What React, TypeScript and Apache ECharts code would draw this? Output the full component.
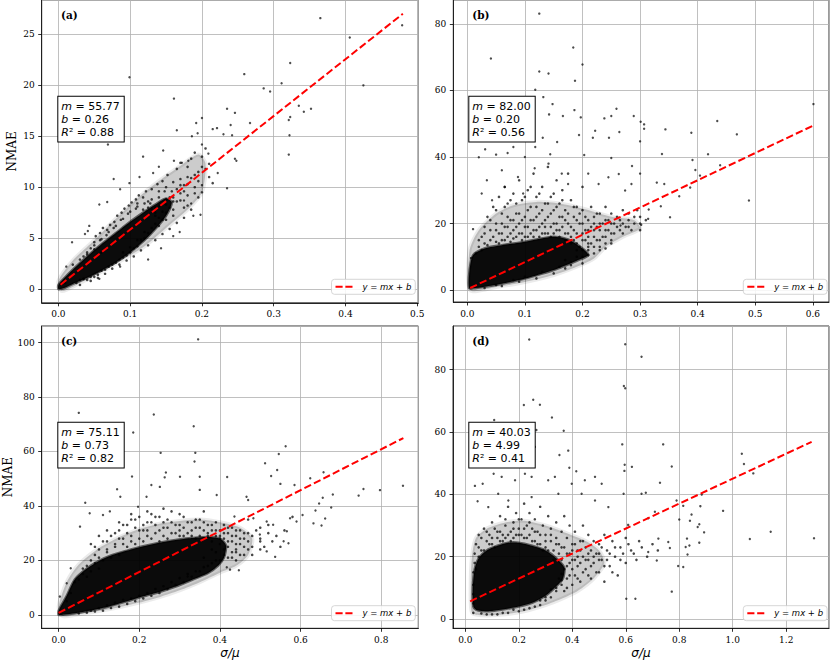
import React, { useEffect, useRef } from "react";
import * as echarts from "echarts";

// ---------- Panel (a) ----------
const fitA = [[0.003, 0.43], [0.48, 27.03]];
// outline of the saturated (solid black) part of the point cloud
const denseA = [
  [0.0, 0.0], [0.0, 0.4], [0.01, 1.2], [0.02, 1.9], [0.04, 3.2], [0.06, 4.4], [0.08, 5.5], [0.1, 6.6], [0.12, 7.6],
  [0.135, 8.3], [0.15, 8.9], [0.158, 8.5], [0.15, 7.2], [0.135, 5.9], [0.12, 4.8], [0.1, 3.6], [0.08, 2.6],
  [0.06, 1.8], [0.04, 1.1], [0.02, 0.5], [0.008, 0.1],
];
// outline of the half-saturated (grey) zone around it
const grayA = [
  [0.0, 0.8], [0.02, 2.8], [0.05, 4.8], [0.08, 6.9], [0.11, 8.9], [0.14, 10.6], [0.17, 12.1], [0.195, 13.2],
  [0.205, 12.3], [0.2, 9.5], [0.18, 7.8], [0.15, 6.0], [0.12, 4.2], [0.09, 2.9], [0.06, 1.7], [0.03, 0.6], [0.005, -0.2],
];
const midA = [
  [0.02, 2.4], [0.025, 0.6], [0.03, 2.9], [0.03, 0.9], [0.035, 3.2], [0.035, 1.0], [0.04, 3.6], [0.04, 0.9],
  [0.045, 4.0], [0.045, 1.2], [0.05, 4.6], [0.05, 1.2], [0.052, 5.2], [0.055, 1.4], [0.058, 5.5], [0.06, 1.8],
  [0.062, 6.0], [0.065, 1.9], [0.068, 5.8], [0.07, 2.2], [0.072, 6.3], [0.075, 2.4], [0.078, 6.6], [0.08, 2.6],
  [0.082, 7.2], [0.085, 2.9], [0.088, 7.5], [0.09, 3.1], [0.092, 7.9], [0.095, 3.3], [0.098, 8.2], [0.1, 3.6],
  [0.102, 8.5], [0.105, 4.0], [0.108, 8.8], [0.11, 4.2], [0.112, 9.2], [0.115, 4.8], [0.118, 9.0], [0.12, 5.0],
  [0.122, 9.6], [0.125, 5.5], [0.128, 8.4], [0.13, 6.0], [0.13, 9.8], [0.135, 6.4], [0.135, 8.0], [0.138, 10.3],
  [0.14, 7.0], [0.14, 9.0], [0.145, 6.8], [0.145, 10.6], [0.15, 7.5], [0.15, 8.8], [0.152, 11.2], [0.155, 8.0],
  [0.158, 9.6], [0.16, 10.5], [0.16, 7.2], [0.165, 8.6], [0.165, 11.8], [0.17, 9.4], [0.17, 12.4], [0.175, 10.2],
  [0.175, 8.0], [0.18, 11.0], [0.18, 9.2], [0.185, 12.8], [0.19, 10.0], [0.19, 13.4], [0.195, 11.5], [0.2, 9.5],
  [0.2, 12.0], [0.205, 13.8], [0.21, 11.0], [0.125, 8.0], [0.135, 7.2], [0.142, 8.2], [0.148, 9.6], [0.11, 8.4],
];
const haloA = [
  [0.03, 0.4], [0.04, 3.4], [0.045, 0.8], [0.05, 3.9], [0.055, 1.1], [0.06, 4.9], [0.065, 1.5], [0.07, 5.6],
  [0.075, 2.0], [0.08, 6.2], [0.085, 2.4], [0.09, 6.9], [0.095, 2.8], [0.1, 7.6], [0.105, 3.2], [0.11, 8.1],
  [0.115, 3.8], [0.12, 8.4], [0.125, 4.3], [0.13, 8.8], [0.135, 4.8], [0.14, 9.6], [0.145, 5.4], [0.15, 10.0],
  [0.155, 5.9], [0.16, 9.0], [0.165, 6.5], [0.17, 10.8], [0.175, 7.0], [0.18, 12.0], [0.185, 7.8], [0.19, 11.2],
  [0.195, 9.0], [0.2, 13.0], [0.21, 12.3], [0.215, 10.4], [0.135, 7.5], [0.14, 8.2], [0.145, 7.6], [0.15, 8.3],
  [0.155, 9.0], [0.16, 8.6], [0.165, 9.8], [0.17, 8.7], [0.175, 9.6], [0.18, 10.3], [0.185, 10.9], [0.19, 9.4],
  [0.195, 10.6], [0.14, 6.2], [0.15, 6.8], [0.16, 7.8], [0.17, 10.2], [0.18, 8.2], [0.13, 7.9], [0.125, 8.6],
  [0.118, 7.8], [0.108, 7.9], [0.097, 7.4], [0.087, 6.8], [0.077, 6.0], [0.067, 5.3], [0.06, 3.6], [0.058, 4.8],
  [0.05, 4.3], [0.11, 4.8], [0.12, 5.6], [0.1, 4.1], [0.09, 3.6],
];
const sparseA = [
  [0.365, 26.6], [0.479, 25.9], [0.406, 24.7], [0.323, 22.2], [0.259, 21.1], [0.099, 20.8], [0.311, 20.2],
  [0.425, 20.0], [0.286, 19.7], [0.295, 19.4], [0.161, 18.7], [0.335, 18.0], [0.352, 17.7], [0.235, 17.7],
  [0.342, 17.4], [0.246, 17.3], [0.2, 16.8], [0.323, 16.9], [0.321, 16.6], [0.192, 16.3], [0.267, 16.3],
  [0.24, 16.1], [0.215, 15.7], [0.165, 15.6], [0.221, 15.8], [0.322, 15.1], [0.23, 15.2], [0.242, 15.1],
  [0.321, 13.2], [0.146, 13.6], [0.069, 14.2], [0.246, 12.8], [0.248, 12.6], [0.222, 11.4], [0.235, 9.9],
  [0.2, 10.2], [0.118, 13.0], [0.077, 10.8], [0.057, 8.3], [0.068, 8.55], [0.019, 4.6], [0.057, 1.0],
  [0.086, 2.2], [0.143, 4.0], [0.125, 2.9], [0.169, 5.6], [0.188, 7.2], [0.198, 7.3], [0.16, 5.2],
  [0.043, 6.2], [0.037, 5.4], [0.011, 2.2], [0.0095, 0.6], [0.035, 1.0], [0.185, 8.4], [0.175, 8.7],
  [0.186, 15.0], [0.194, 15.3], [0.2, 14.2], [0.209, 13.3], [0.181, 12.6], [0.205, 11.8], [0.172, 12.4],
  [0.161, 12.6], [0.14, 12.0], [0.132, 11.4], [0.113, 11.0], [0.099, 10.4], [0.086, 9.8], [0.041, 5.7],
];

// ---------- Panel (b) ----------
const fitB = [[0.005, 0.61], [0.6, 49.4]];
const denseB = [
  [0.003, 0.5], [0.004, 6], [0.01, 10.5], [0.03, 12.5], [0.06, 13.5], [0.09, 14.2], [0.12, 15.2], [0.15, 16],
  [0.175, 15.2], [0.2, 12.5], [0.21, 10.5], [0.19, 8.8], [0.15, 6], [0.12, 4.4], [0.09, 3], [0.06, 1.9],
  [0.03, 1.0], [0.01, 0.5],
];
const grayB = [
  [0.004, 12], [0.02, 18], [0.05, 23], [0.08, 25.5], [0.12, 26.5], [0.16, 26], [0.2, 24.5], [0.25, 22],
  [0.29, 21], [0.3, 18.5], [0.27, 16], [0.24, 13], [0.22, 9.5], [0.19, 7], [0.15, 4.5], [0.1, 2.4], [0.05, 0.9],
  [0.005, 0],
];
const midB = [
  [0.02, 13], [0.025, 16], [0.03, 14], [0.03, 19], [0.035, 22], [0.04, 15], [0.04, 18], [0.045, 25], [0.05, 14.5],
  [0.05, 20], [0.055, 17], [0.055, 28], [0.06, 23], [0.06, 15], [0.065, 19], [0.065, 31], [0.07, 16], [0.07, 26],
  [0.075, 21], [0.075, 14.5], [0.08, 18], [0.08, 29], [0.085, 23], [0.085, 16], [0.09, 20], [0.09, 33], [0.095, 27],
  [0.095, 17], [0.1, 22], [0.1, 16], [0.105, 30], [0.105, 19], [0.11, 25], [0.11, 17], [0.115, 21], [0.115, 35],
  [0.12, 28], [0.12, 18], [0.125, 23], [0.125, 16], [0.13, 31], [0.13, 20], [0.135, 26], [0.135, 17], [0.14, 22],
  [0.14, 37], [0.145, 19], [0.145, 28], [0.15, 24], [0.15, 17], [0.155, 33], [0.155, 20], [0.16, 26], [0.16, 18],
  [0.165, 22], [0.165, 30], [0.17, 17], [0.17, 24], [0.175, 20], [0.175, 35], [0.18, 16], [0.18, 27], [0.185, 22],
  [0.185, 18], [0.19, 25], [0.19, 14], [0.195, 20], [0.2, 17], [0.2, 24], [0.2, 31], [0.205, 15], [0.21, 21],
  [0.21, 18], [0.215, 25], [0.22, 16], [0.22, 22], [0.225, 19], [0.23, 23], [0.23, 15], [0.235, 20], [0.24, 18],
  [0.24, 25], [0.245, 21], [0.25, 17], [0.25, 23], [0.255, 20], [0.26, 22], [0.265, 18], [0.27, 24], [0.27, 20],
  [0.28, 21], [0.28, 19], [0.29, 22], [0.3, 20], [0.3, 18], [0.31, 21],
  [0.05, 1.5], [0.08, 3], [0.1, 4], [0.13, 5.5], [0.16, 7], [0.18, 8.5], [0.2, 10], [0.21, 12], [0.22, 11],
  [0.2, 8], [0.17, 9], [0.19, 12], [0.21, 14], [0.23, 13], [0.25, 14], [0.24, 16],
];
const haloB = [
  [0.015, 11], [0.02, 15], [0.025, 12], [0.03, 17], [0.035, 13.5], [0.04, 21], [0.045, 16], [0.05, 18], [0.05, 24],
  [0.055, 14], [0.06, 20], [0.06, 17], [0.065, 25], [0.065, 15], [0.07, 22], [0.07, 19], [0.075, 17], [0.075, 27],
  [0.08, 15.5], [0.08, 21], [0.085, 19], [0.085, 26], [0.09, 17], [0.09, 23], [0.095, 15], [0.095, 21], [0.1, 19],
  [0.1, 28], [0.105, 16], [0.105, 24], [0.11, 21], [0.11, 31], [0.115, 18], [0.115, 16], [0.12, 22], [0.12, 25],
  [0.125, 19], [0.125, 29], [0.13, 17], [0.13, 24], [0.135, 21], [0.135, 19], [0.14, 17], [0.14, 26], [0.145, 23],
  [0.145, 16], [0.15, 20], [0.15, 29], [0.155, 18], [0.155, 25], [0.16, 22], [0.16, 16], [0.165, 19], [0.165, 27],
  [0.17, 21], [0.17, 15], [0.175, 17], [0.175, 23], [0.18, 19], [0.18, 14], [0.185, 25], [0.185, 15], [0.19, 17],
  [0.19, 21], [0.195, 13], [0.195, 23], [0.2, 15], [0.2, 20], [0.205, 18], [0.205, 22], [0.21, 13], [0.21, 16],
  [0.215, 19], [0.215, 14], [0.22, 18], [0.22, 20], [0.225, 15], [0.225, 23], [0.23, 18], [0.23, 20], [0.235, 16],
  [0.24, 14], [0.24, 21], [0.245, 18], [0.25, 15], [0.25, 20], [0.255, 17], [0.26, 19], [0.265, 21], [0.27, 17],
  [0.275, 19], [0.28, 23], [0.285, 18], [0.29, 20], [0.295, 24], [0.3, 22], [0.2, 12], [0.21, 10.5], [0.22, 13],
  [0.23, 12], [0.24, 12.5], [0.19, 10], [0.18, 7.5], [0.17, 6.5], [0.15, 5], [0.12, 3.5], [0.09, 2.5], [0.06, 1.2],
  [0.03, 0.6],
];
const sparseB = [
  [0.125, 83.1], [0.184, 72.9], [0.041, 69.6], [0.2, 67.8], [0.125, 65.7], [0.141, 65.1], [0.187, 62.9],
  [0.118, 60.2], [0.132, 58], [0.148, 55.9], [0.259, 54.5], [0.601, 55.9], [0.186, 54.1], [0.142, 52.8],
  [0.166, 52.3], [0.197, 51.9], [0.238, 51.6], [0.25, 52.3], [0.289, 52.3], [0.301, 50.6], [0.307, 49.8],
  [0.434, 50.8], [0.307, 48.5], [0.344, 48.3], [0.264, 47.5], [0.468, 46.8], [0.389, 47.3], [0.131, 45.8],
  [0.194, 46.6], [0.218, 45.8], [0.246, 45.8], [0.222, 47.9], [0.3, 44.7], [0.156, 44.5], [0.031, 42.3],
  [0.08, 43], [0.07, 41.2], [0.05, 40.7], [0.144, 40.8], [0.338, 40.9], [0.418, 40.8], [0.203, 40.6],
  [0.25, 39.7], [0.391, 39.1], [0.02, 39.9], [0.286, 37.3], [0.439, 37.5], [0.396, 36.1], [0.404, 34.4],
  [0.3, 35], [0.329, 32.3], [0.342, 31.9], [0.489, 26.9], [0.352, 21.9], [0.387, 30.8], [0.368, 28.2],
  [0.336, 25.2], [0.315, 24.2], [0.314, 21.4], [0.302, 19.6], [0.266, 19.4], [0.01, 18.3], [0.0065, 9.6],
  [0.117, 36.6], [0.088, 34.0], [0.097, 29.0], [0.065, 31.0], [0.043, 27.0], [0.034, 33.0], [0.164, 35],
  [0.141, 38.0], [0.175, 31.9], [0.21, 35], [0.228, 31.9], [0.245, 33.9], [0.263, 34.9], [0.274, 29.9],
  [0.285, 31.9], [0.118, 43], [0.1, 40], [0.06, 36], [0.025, 29],
];

// ---------- Panel (c) ----------
const fitC = [[0.0, 0.73], [0.855, 64.95]];
const denseC = [
  [0.0, 0.0], [0.0, 1.5], [0.02, 7], [0.04, 13], [0.07, 17], [0.1, 19.8], [0.13, 21.8], [0.17, 23.6], [0.21, 25.2],
  [0.25, 26.5], [0.29, 27.5], [0.33, 28.2], [0.37, 28.6], [0.4, 28], [0.415, 25.5], [0.41, 21], [0.395, 18],
  [0.37, 15.3], [0.33, 12.8], [0.29, 10.4], [0.25, 8.4], [0.21, 6.8], [0.17, 5], [0.12, 2.9], [0.08, 1.6],
  [0.04, 0.6], [0.015, 0.1],
];
const grayC = [
  [0.0, 3], [0.02, 12], [0.05, 18.5], [0.1, 24.5], [0.15, 28.5], [0.2, 31.5], [0.25, 33.5], [0.3, 34.5],
  [0.35, 35], [0.4, 34], [0.45, 32], [0.48, 28], [0.47, 22], [0.44, 18], [0.4, 15.5], [0.35, 12], [0.3, 9],
  [0.25, 6.5], [0.2, 4.5], [0.15, 2.8], [0.1, 1.4], [0.05, 0.2], [0.01, -0.5],
];
const midC = [
  [0.02, 5], [0.03, 8], [0.04, 12], [0.05, 13], [0.06, 15], [0.07, 14], [0.07, 18], [0.08, 16], [0.09, 19],
  [0.09, 22], [0.1, 17], [0.1, 24], [0.11, 20], [0.12, 23], [0.12, 27], [0.13, 21], [0.14, 25], [0.14, 30],
  [0.15, 22], [0.15, 28], [0.16, 26], [0.16, 33], [0.17, 25], [0.17, 30], [0.18, 27], [0.18, 35], [0.19, 26],
  [0.19, 32], [0.2, 28], [0.2, 36], [0.21, 27], [0.21, 31], [0.22, 29], [0.22, 34], [0.23, 28], [0.23, 37],
  [0.24, 30], [0.24, 33], [0.25, 27], [0.25, 36], [0.26, 29], [0.26, 32], [0.27, 28], [0.27, 35], [0.28, 30],
  [0.28, 38], [0.29, 30], [0.3, 29], [0.3, 33], [0.31, 29], [0.31, 36], [0.32, 30], [0.33, 29], [0.33, 34],
  [0.34, 28], [0.34, 32], [0.35, 29], [0.35, 35], [0.36, 28], [0.36, 31], [0.37, 30], [0.37, 33], [0.38, 27],
  [0.38, 31], [0.39, 29], [0.39, 34], [0.4, 26], [0.4, 31], [0.41, 28], [0.41, 33], [0.42, 25], [0.42, 30],
  [0.43, 27], [0.43, 32], [0.44, 24], [0.44, 29], [0.45, 26], [0.45, 31], [0.46, 28], [0.46, 22], [0.47, 30],
  [0.48, 25], [0.5, 27], [0.52, 30], [0.55, 25],
  [0.05, 0.5], [0.08, 1.5], [0.1, 2.5], [0.12, 3.5], [0.14, 4.5], [0.16, 5.5], [0.18, 6], [0.2, 7], [0.22, 8],
  [0.24, 9.5], [0.26, 10.5], [0.28, 12], [0.3, 13.5], [0.32, 15], [0.34, 16], [0.36, 17.5], [0.38, 19], [0.4, 20],
  [0.42, 21], [0.44, 20], [0.39, 23], [0.41, 24], [0.43, 23], [0.36, 21], [0.38, 24],
];
const haloC = [
  [0.06, 17], [0.08, 20], [0.09, 25], [0.1, 21], [0.11, 27], [0.12, 24], [0.13, 29], [0.14, 26], [0.15, 31],
  [0.16, 28], [0.17, 33], [0.18, 29], [0.19, 35], [0.2, 31], [0.21, 33], [0.22, 31], [0.23, 34], [0.24, 36],
  [0.25, 31], [0.26, 34], [0.27, 32], [0.28, 34], [0.29, 33], [0.3, 31], [0.31, 32], [0.32, 34], [0.33, 31],
  [0.34, 35], [0.35, 32], [0.36, 34], [0.37, 29], [0.38, 33], [0.39, 31], [0.4, 29], [0.41, 30], [0.42, 32],
  [0.43, 29], [0.44, 31], [0.45, 28], [0.46, 30], [0.47, 27], [0.48, 29], [0.49, 31], [0.5, 28], [0.51, 25],
  [0.53, 27], [0.44, 26], [0.42, 27], [0.4, 28], [0.45, 22], [0.47, 24], [0.43, 21], [0.41, 22], [0.39, 20],
  [0.37, 18], [0.35, 16], [0.33, 14], [0.31, 12], [0.29, 11], [0.27, 9.5], [0.25, 8], [0.23, 7], [0.21, 6],
  [0.19, 5], [0.17, 4], [0.15, 3], [0.13, 2.5], [0.11, 1.5], [0.09, 1.2], [0.07, 0.8], [0.44, 23], [0.46, 25],
  [0.48, 22], [0.5, 24], [0.5, 32], [0.52, 33], [0.54, 29], [0.56, 31], [0.58, 36], [0.47, 35], [0.36, 38],
  [0.3, 37], [0.26, 39], [0.22, 38], [0.18, 37], [0.15, 34], [0.12, 31], [0.1, 29], [0.08, 26],
];
const sparseC = [
  [0.346, 101.2], [0.05, 74.2], [0.236, 73.6], [0.335, 69.3], [0.185, 67.0], [0.563, 61.9], [0.253, 59.5],
  [0.339, 59.5], [0.546, 59.1], [0.337, 56.3], [0.512, 55.7], [0.266, 52.3], [0.35, 50.7], [0.182, 50.8],
  [0.263, 50.5], [0.542, 53.2], [0.527, 51.0], [0.657, 52.4], [0.624, 50.2], [0.418, 50.6], [0.55, 48.1],
  [0.585, 47.7], [0.854, 47.4], [0.756, 46.2], [0.797, 45.8], [0.744, 43.8], [0.68, 44.2], [0.655, 43.0],
  [0.646, 40.9], [0.676, 39.4], [0.637, 38.3], [0.661, 35.4], [0.632, 33.6], [0.652, 32.8], [0.605, 36.7],
  [0.57, 26.3], [0.537, 21.3], [0.425, 16.6], [0.447, 16.4], [0.417, 17.5], [0.32, 14.1], [0.35, 45.9],
  [0.392, 44.0], [0.466, 43.4], [0.47, 42.2], [0.436, 36.1], [0.483, 35.5], [0.516, 34.3], [0.532, 33.1],
  [0.499, 29.5], [0.516, 23.3], [0.566, 30.7], [0.558, 27.0], [0.59, 34.3], [0.574, 35.5], [0.066, 41.2],
  [0.145, 46.1], [0.153, 43.4], [0.218, 43.4], [0.197, 39.7], [0.23, 47.7], [0.251, 47.0], [0.301, 50.7],
  [0.127, 38.0], [0.11, 36.7], [0.077, 37.3], [0.053, 32.4], [0.03, 17.1], [0.02, 11.6], [0.003, 6.7],
];

// ---------- Panel (d) ----------
const fitD = [[0.018, 5.71], [1.295, 56.83]];
const denseD = [
  [0.03, 4], [0.028, 10], [0.035, 16], [0.05, 19.5], [0.08, 22], [0.12, 23.5], [0.16, 24.5], [0.2, 24.5],
  [0.25, 23.5], [0.3, 22], [0.34, 19.5], [0.37, 16.5], [0.365, 13], [0.34, 10.5], [0.3, 7.5], [0.25, 5.2],
  [0.2, 4], [0.15, 3.2], [0.1, 2.6], [0.06, 2.6], [0.04, 3],
];
const grayD = [
  [0.025, 2], [0.02, 10], [0.025, 20], [0.04, 26], [0.08, 29], [0.15, 31], [0.22, 31.5], [0.3, 30], [0.38, 27.5],
  [0.45, 25], [0.5, 22], [0.52, 18], [0.48, 13], [0.42, 9], [0.36, 6.5], [0.3, 4.5], [0.22, 2.5], [0.14, 1.5],
  [0.06, 1.2],
];
const midD = [
  [0.03, 15], [0.035, 18], [0.03, 2], [0.05, 20], [0.05, 23], [0.06, 26], [0.07, 22], [0.08, 28], [0.09, 24],
  [0.1, 31], [0.1, 26], [0.11, 23], [0.12, 28], [0.13, 33], [0.13, 25], [0.14, 27], [0.15, 30], [0.15, 26],
  [0.16, 36], [0.17, 28], [0.18, 31], [0.18, 26], [0.19, 34], [0.2, 27], [0.2, 29], [0.21, 32], [0.22, 26],
  [0.22, 37], [0.23, 30], [0.24, 27], [0.24, 34], [0.25, 29], [0.26, 25], [0.26, 32], [0.27, 28], [0.28, 36],
  [0.28, 24], [0.29, 30], [0.3, 27], [0.3, 23], [0.31, 33], [0.32, 25], [0.32, 29], [0.33, 22], [0.34, 31],
  [0.34, 26], [0.35, 21], [0.35, 24], [0.36, 28], [0.36, 19], [0.37, 23], [0.37, 33], [0.38, 17], [0.38, 26],
  [0.39, 21], [0.39, 30], [0.4, 19], [0.4, 24], [0.41, 14], [0.41, 28], [0.42, 22], [0.42, 17], [0.43, 25],
  [0.43, 12], [0.44, 20], [0.44, 30], [0.45, 16], [0.45, 23], [0.46, 27], [0.46, 19], [0.47, 13], [0.47, 22],
  [0.48, 25], [0.48, 18], [0.49, 21], [0.5, 15], [0.5, 24], [0.51, 19], [0.52, 27], [0.52, 12], [0.53, 22],
  [0.54, 17], [0.55, 25], [0.56, 20], [0.57, 14], [0.58, 23], [0.6, 18], [0.6, 26], [0.62, 22], [0.64, 19],
  [0.65, 25],
  [0.08, 1.5], [0.12, 1.5], [0.16, 2], [0.2, 2.5], [0.24, 3.5], [0.28, 4.5], [0.3, 6], [0.32, 7], [0.34, 9],
  [0.36, 11], [0.38, 13], [0.36, 14.5], [0.38, 10], [0.26, 4],
];
const haloD = [
  [0.03, 5], [0.03, 8], [0.03, 11], [0.035, 21], [0.04, 16], [0.04, 24], [0.05, 27], [0.06, 22], [0.07, 29],
  [0.08, 25], [0.09, 27], [0.1, 24], [0.11, 29], [0.12, 26], [0.13, 28], [0.14, 25], [0.15, 32], [0.16, 27],
  [0.17, 25], [0.18, 29], [0.19, 27], [0.2, 32], [0.21, 27], [0.22, 29], [0.23, 26], [0.24, 31], [0.25, 25],
  [0.26, 28], [0.27, 24], [0.28, 27], [0.29, 22], [0.3, 25], [0.31, 22], [0.32, 27], [0.33, 19], [0.34, 24],
  [0.35, 13], [0.36, 23], [0.37, 16], [0.38, 21], [0.39, 14], [0.39, 18], [0.4, 22], [0.4, 16], [0.41, 19],
  [0.41, 24], [0.42, 13], [0.42, 20], [0.43, 18], [0.43, 22], [0.44, 15], [0.44, 25], [0.45, 19], [0.46, 14],
  [0.46, 21], [0.47, 17], [0.48, 20], [0.49, 15], [0.5, 19], [0.5, 21], [0.51, 23], [0.52, 17], [0.53, 19],
  [0.54, 21], [0.55, 15], [0.56, 23], [0.58, 19], [0.59, 21], [0.61, 24], [0.63, 21], [0.66, 23], [0.68, 20],
  [0.7, 24], [0.72, 22], [0.3, 7], [0.32, 9.5], [0.34, 10], [0.36, 12.5], [0.22, 3], [0.18, 3], [0.14, 2],
  [0.1, 1.5], [0.06, 1.8], [0.28, 6], [0.37, 9], [0.4, 11],
];
const sparseD = [
  [0.239, 89.6], [0.598, 88.1], [0.659, 84.1], [0.593, 74.7], [0.598, 74.0], [0.254, 70.3], [0.219, 68.6],
  [0.279, 68.7], [0.324, 64.6], [0.108, 63.8], [0.368, 60.4], [0.266, 60.6], [0.587, 56], [0.74, 56],
  [0.26, 55.2], [0.352, 52.6], [0.385, 54], [1.034, 53], [1.042, 49.7], [0.596, 49.5], [0.623, 48.8],
  [0.772, 48.9], [1.077, 46.7], [0.389, 48.5], [0.415, 47.4], [0.595, 47.5], [0.728, 43.7], [0.592, 40.2],
  [0.659, 40.2], [0.675, 40.5], [0.79, 38], [0.884, 39.9], [0.815, 36.3], [0.879, 36.2], [0.964, 34.7],
  [0.846, 33.5], [0.8, 31.9], [0.84, 31.5], [0.875, 30.4], [0.869, 29.5], [0.893, 27.8], [1.142, 28],
  [1.064, 25.7], [1.304, 25.9], [0.829, 25.8], [0.875, 24.5], [0.824, 23.1], [0.838, 23.6], [0.831, 20.7],
  [0.796, 17], [0.815, 16.7], [0.772, 8.8], [0.602, 6.5], [0.636, 6.5], [0.765, 22.8], [0.759, 24.7],
  [0.722, 25.8], [0.716, 18.8], [0.684, 21.5], [0.709, 34.4], [0.684, 32.3], [0.609, 30.2], [0.036, 42.7],
  [0.046, 37.8], [0.065, 43.4], [0.106, 46.6], [0.186, 44.5], [0.136, 45.6], [0.248, 45.6], [0.223, 46.6],
  [0.31, 44.5], [0.335, 45.6], [0.398, 43.4], [0.447, 44.5], [0.485, 45.6], [0.51, 43.4], [0.348, 40.2],
  [0.123, 40.2], [0.086, 35.9], [0.161, 38.0], [0.248, 39.1], [0.435, 40.2], [0.485, 38.0], [0.535, 35.9],
];

// ---------- Labels ----------
const panelLabels = ["(a)", "(b)", "(c)", "(d)"];
const slopes = ["55.77", "82.00", "75.11", "40.03"];
const intercepts = ["0.26", "0.20", "0.73", "4.99"];
const r2s = ["0.88", "0.56", "0.82", "0.41"];
const fitName = "y = mx + b";
const yName = "NMAE";
const xName = "σ/μ";

const panels = [
  { fit: fitA, dense: denseA, gray: grayA, mid: midA.concat(haloA), sparse: sparseA,
    grid: { left: 41.7, top: -1, width: 376.6, height: 303.8 },
    x: [-0.0233, 0.5015, 0.1], y: [-1.35, 28.38, 5], showY: true, showX: false,
    box: [57.3, 95.7], label: [61, 9], legend: [331.5, 279.3] },
  { fit: fitB, dense: denseB, gray: grayB, mid: midB.concat(haloB), sparse: sparseB,
    grid: { left: 453.3, top: -0.5, width: 375.7, height: 302.5 },
    x: [-0.0243, 0.628, 0.1], y: [-3.6, 87.2, 20], showY: false, showX: false,
    box: [468.3, 95.7], label: [472.3, 9], legend: [743.3, 279.3] },
  { fit: fitC, dense: denseC, gray: grayC, mid: midC.concat(haloC), sparse: sparseC,
    grid: { left: 41.7, top: 326, width: 376.6, height: 302.3 },
    x: [-0.042, 0.892, 0.2], y: [-4.95, 106.1, 20], showY: true, showX: true,
    box: [57.3, 421.7], label: [61, 335], legend: [331.5, 605.7] },
  { fit: fitD, dense: denseD, gray: grayD, mid: midD.concat(haloD), sparse: sparseD,
    grid: { left: 453, top: 326, width: 376, height: 302.3 },
    x: [-0.046, 1.36, 0.2], y: [-2.95, 93.95, 20], showY: false, showX: true,
    box: [468.3, 421.7], label: [472.3, 335], legend: [743.3, 605.7] },
];

const axisCommon = (min: number, max: number, step: number, fmt: (v: number) => string) => ({
  type: "value" as const,
  min, max, minInterval: step, maxInterval: step, splitNumber: 6,
  axisLine: { show: true, onZero: false, lineStyle: { color: "#000", width: 0.8 } },
  axisTick: { show: true, inside: false, length: 3.5, lineStyle: { color: "#000", width: 0.8 } },
  axisLabel: {
    showMinLabel: false, showMaxLabel: false, color: "#000",
    fontFamily: "DejaVu Serif", fontSize: 9, margin: 7, formatter: fmt,
  },
  splitLine: { show: true, lineStyle: { color: "#b0b0b0", width: 0.8 } },
});

const dashIcon = "path://M0,0H7V2H0Z M9.7,0H16.7V2H9.7Z";

const regionSeries = (i: number, outline: number[][], style: any) => ({
  type: "custom", xAxisIndex: i, yAxisIndex: i, data: outline, silent: true, z: 2, clip: true,
  renderItem: (params: any, api: any) => {
    if (params.dataIndex !== 0) return null;
    const pts = outline.map((v) => api.coord(v));
    return { type: "polygon", shape: { points: pts, smooth: 0.25 }, style };
  },
});

export default function App() {
  const ref = useRef<HTMLDivElement>(null);
  useEffect(() => {
    if (!ref.current) return;
    const chart = echarts.init(ref.current, undefined, { renderer: "svg" });
    const grid: any[] = [];
    const xAxis: any[] = [];
    const yAxis: any[] = [];
    const series: any[] = [];
    const legend: any[] = [];
    const graphic: any[] = [];
    panels.forEach((p, i) => {
      grid.push({ ...p.grid, show: true, borderColor: "#000", borderWidth: 0.8, backgroundColor: "#fff", containLabel: false });
      const xa: any = { ...axisCommon(p.x[0], p.x[1], p.x[2], (v: number) => v.toFixed(1)), gridIndex: i };
      if (p.showX) {
        xa.name = xName;
        xa.nameLocation = "middle";
        xa.nameGap = 19;
        xa.nameTextStyle = { fontFamily: "DejaVu Sans", fontStyle: "italic", fontSize: 12, color: "#000" };
      }
      xAxis.push(xa);
      const ya: any = { ...axisCommon(p.y[0], p.y[1], p.y[2], (v: number) => String(Math.round(v))), gridIndex: i };
      if (p.showY) {
        ya.name = yName;
        ya.nameLocation = "middle";
        ya.nameGap = 24;
        ya.nameRotate = 90;
        ya.nameTextStyle = { fontFamily: "DejaVu Serif", fontSize: 12, color: "#000" };
      }
      yAxis.push(ya);
      series.push(regionSeries(i, p.gray, { fill: "rgba(0,0,0,0.2)", stroke: "rgba(0,0,0,0.08)", lineWidth: 4 }));
      series.push(regionSeries(i, p.dense, { fill: "rgba(0,0,0,0.95)", stroke: "rgba(0,0,0,0.55)", lineWidth: 2.5 }));
      series.push({
        type: "scatter", xAxisIndex: i, yAxisIndex: i, data: p.mid, symbol: "circle", symbolSize: 2.6,
        itemStyle: { color: "#000", opacity: 0.72 }, silent: true, z: 2,
      });
      series.push({
        type: "scatter", xAxisIndex: i, yAxisIndex: i, data: p.sparse, symbol: "circle", symbolSize: 2.4,
        itemStyle: { color: "#000", opacity: 0.7 }, silent: true, z: 2,
      });
      series.push({
        type: "line", name: fitName, xAxisIndex: i, yAxisIndex: i, data: p.fit, symbol: "none", showSymbol: false,
        legendIcon: dashIcon,
        lineStyle: { color: "#ff0000", width: 2, type: [7.4, 3.2] }, itemStyle: { color: "#ff0000" }, silent: true, z: 5,
      });
      legend.push({
        data: [{ name: fitName, icon: dashIcon }], left: p.legend[0], top: p.legend[1], orient: "horizontal", selectedMode: false,
        padding: [3, 4, 3, 4], itemWidth: 17, itemHeight: 8, itemGap: 0,
        borderColor: "#cccccc", borderWidth: 0.8, borderRadius: 3, backgroundColor: "rgba(255,255,255,0.85)",
        formatter: () => "{i|y} = {i|mx} + {i|b}",
        textStyle: {
          fontFamily: "DejaVu Sans", fontSize: 8.5, color: "#000", padding: [0, 0, 0, 5],
          rich: { i: { fontFamily: "DejaVu Sans", fontStyle: "italic", fontSize: 8.5, color: "#000" } },
        },
        z: 10,
      });
      graphic.push({
        type: "text", left: p.box[0], top: p.box[1], z: 20,
        style: {
          text: `{i|m} = ${slopes[i]}\n{i|b} = ${intercepts[i]}\n{i|R}² = ${r2s[i]}`,
          fontFamily: "DejaVu Sans", fontSize: 11, lineHeight: 13.3, fill: "#000",
          backgroundColor: "#fff", borderColor: "#000", borderWidth: 1, padding: [3, 4, 2, 3],
          rich: { i: { fontFamily: "DejaVu Sans", fontStyle: "italic", fontSize: 11, lineHeight: 13.3, fill: "#000" } },
        },
      });
      graphic.push({
        type: "text", left: p.label[0], top: p.label[1], z: 20,
        style: { text: panelLabels[i], fontFamily: "DejaVu Serif", fontWeight: "bold", fontSize: 10.5, fill: "#000" },
      });
    });
    chart.setOption({
      animation: false,
      backgroundColor: "#fff",
      grid, xAxis, yAxis, series, legend, graphic,
    });
    return () => chart.dispose();
  }, []);
  return (
    <div
      ref={ref}
      style={{ position: "absolute", left: 0, top: 0, width: 830, height: 663, background: "#fff" }}
    />
  );
}
